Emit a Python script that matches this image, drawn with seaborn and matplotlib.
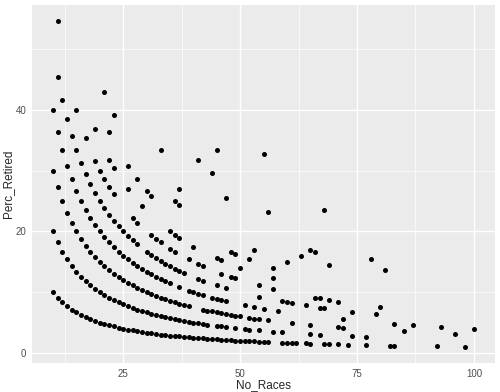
import numpy as np
import pandas as pd
import matplotlib
matplotlib.use("Agg")
import matplotlib.pyplot as plt
import seaborn as sns

# No_Races of the drivers, grouped by their number of retirements
races_ret1 = [10, 11, 12, 13, 14, 15, 16, 17, 18, 19, 20, 21, 22, 23, 24, 25, 26, 27,
              28, 29, 30, 31, 32, 33, 34, 35, 36, 37, 38, 39, 40, 41, 42, 43, 44, 45,
              46, 47, 48, 49, 50, 51, 52, 53, 54, 55, 56, 59, 60, 61, 62, 64, 65, 68,
              69, 71, 73, 77, 82, 83, 92, 98]
races_ret2 = [10, 11, 12, 13, 14, 15, 16, 17, 18, 19, 20, 21, 22, 23, 24, 25, 26, 27,
              28, 29, 30, 31, 32, 33, 34, 35, 36, 37, 38, 39, 40, 41, 42, 43, 45, 46,
              47, 49, 51, 52, 54, 57, 59, 65, 67, 74, 77]
races_ret3 = [10, 11, 12, 13, 14, 15, 16, 17, 18, 19, 20, 21, 22, 23, 24, 25, 26, 27,
              28, 29, 30, 31, 32, 33, 34, 35, 36, 37, 38, 39, 42, 43, 44, 45, 46, 47,
              48, 49, 50, 52, 53, 54, 56, 61, 65, 71, 72, 85, 96]
races_ret4 = [10, 11, 12, 13, 14, 15, 16, 17, 18, 19, 20, 21, 22, 23, 24, 25, 26, 27,
              28, 29, 30, 31, 32, 33, 34, 35, 37, 39, 40, 41, 42, 44, 45, 46, 47, 51,
              53, 55, 58, 72, 83, 87, 93, 100]
races_ret5 = [11, 12, 13, 14, 15, 16, 17, 18, 19, 20, 21, 22, 23, 24, 25, 26, 27, 28,
              30, 31, 32, 33, 34, 35, 36, 37, 38, 41, 42, 45, 47, 54, 59, 60, 61, 64,
              67, 68, 74, 79]
races_ret6 = [11, 15, 17, 19, 20, 21, 22, 23, 27, 28, 31, 32, 33, 35, 36, 39, 41, 42,
              46, 48, 49, 54, 57, 66, 67, 69, 71, 80]
races_ret7 = [19, 22, 23, 26, 29, 35, 36, 37, 40, 45, 46, 50, 57]
races_ret8 = [22, 26, 28, 30, 31, 48, 49, 52, 57]
races_ret9 = [21, 23, 36, 37, 53, 60]
races_ret10 = [37, 63, 69]
races_ret11 = [33, 65, 66, 81]
races_ret12 = [47, 78]
races_ret13 = [41, 44, 56]
races_ret15 = [45]
races_ret16 = [68]
races_ret18 = [55]

groups = [(1, races_ret1), (2, races_ret2), (3, races_ret3), (4, races_ret4),
          (5, races_ret5), (6, races_ret6), (7, races_ret7), (8, races_ret8),
          (9, races_ret9), (10, races_ret10), (11, races_ret11), (12, races_ret12),
          (13, races_ret13), (15, races_ret15), (16, races_ret16), (18, races_ret18)]

rows = []
for ret, races in groups:
    for n in races:
        rows.append({"No_Races": n, "Retired": ret})
df = pd.DataFrame(rows)
df["Perc_Retired"] = 100 * df["Retired"] / df["No_Races"]

# ggplot2 theme_gray look
sns.set_style("darkgrid", {"axes.facecolor": "#EBEBEB", "grid.color": "white"})
plt.rcParams["font.family"] = ["Liberation Sans", "DejaVu Sans"]

fig, ax = plt.subplots(figsize=(5, 3.92), dpi=100)
fig.subplots_adjust(left=0.064, right=0.99, top=0.987, bottom=0.074)

sns.scatterplot(data=df, x="No_Races", y="Perc_Retired", color="black",
                s=13, linewidth=0, ax=ax)

# expansion like ggplot (5%)
xmin, xmax = df["No_Races"].min(), df["No_Races"].max()
ymin, ymax = df["Perc_Retired"].min(), df["Perc_Retired"].max()
ax.set_xlim(xmin - 0.05 * (xmax - xmin), xmax + 0.05 * (xmax - xmin))
ax.set_ylim(ymin - 0.05 * (ymax - ymin), ymax + 0.05 * (ymax - ymin))

ax.set_xticks([25, 50, 75, 100])
ax.set_yticks([0, 20, 40])
ax.set_xticks([12.5, 37.5, 62.5, 87.5], minor=True)
ax.set_yticks([10, 30, 50], minor=True)
ax.grid(which="major", color="white", linewidth=1.0)
ax.grid(which="minor", color="white", linewidth=0.5)
ax.set_axisbelow(True)
for sp in ax.spines.values():
    sp.set_visible(False)

ax.tick_params(which="major", length=2.5, width=0.6, color="#333333",
               labelsize=7, labelcolor="#4D4D4D", pad=1.5)
ax.tick_params(which="minor", length=0)
ax.set_xlabel("No_Races", fontsize=8.5)
ax.set_ylabel("Perc_Retired", fontsize=8.5)
ax.xaxis.set_label_coords(0.5, -0.046)
ax.yaxis.set_label_coords(-0.038, 0.5)

fig.savefig("out.png", dpi=100)
